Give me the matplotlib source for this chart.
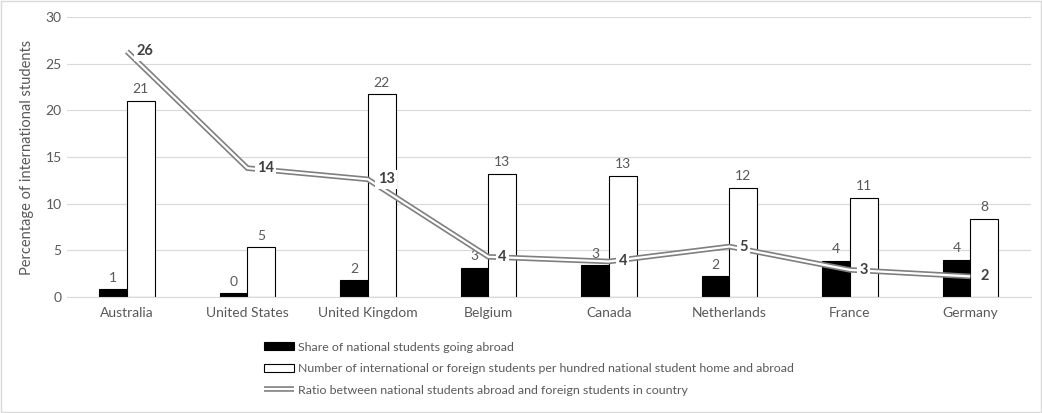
import numpy as np
import matplotlib.pyplot as plt
from matplotlib.patches import Patch
from matplotlib.legend_handler import HandlerTuple

plt.rcParams['font.family'] = ['Lato', 'DejaVu Sans']

countries = ['Australia', 'United States', 'United Kingdom', 'Belgium',
             'Canada', 'Netherlands', 'France', 'Germany']
share_abroad = [0.8, 0.4, 1.8, 3.1, 3.4, 2.2, 3.9, 4.0]
intl_per_hundred = [21.0, 5.3, 21.7, 13.2, 13.0, 11.7, 10.6, 8.4]
ratio = [26.3, 13.8, 12.6, 4.3, 3.8, 5.4, 2.9, 2.2]

grey = '#595959'

fig = plt.figure(figsize=(10.42, 4.13), dpi=100)
ax = fig.add_axes([0.064, 0.281, 0.925, 0.678])

x = np.arange(len(countries))
w = 0.23
b1 = ax.bar(x - w / 2, share_abroad, w, color='black', edgecolor='black', linewidth=0.8, zorder=2)
b2 = ax.bar(x + w / 2, intl_per_hundred, w, color='white', edgecolor='black', linewidth=0.8, zorder=2)
ax.bar_label(b1, fmt='%.0f', padding=4, color=grey, fontsize=10)
ax.bar_label(b2, fmt='%.0f', padding=4, color=grey, fontsize=10)

# double line: grey outline with white core
l_out, = ax.plot(x, ratio, color='#7f7f7f', lw=4, zorder=3, solid_capstyle='butt')
l_in, = ax.plot(x, ratio, color='white', lw=1.6, zorder=4, solid_capstyle='butt')
for xi, yi in zip(x, ratio):
    ax.annotate('%.0f' % yi, (xi, yi), xytext=(7, 0), textcoords='offset points',
                ha='left', va='center', fontsize=10.5, fontweight='bold', color='#404040',
                bbox=dict(boxstyle='square,pad=0.15', fc='white', ec='none'), zorder=5)

ax.set_xlim(-0.5, len(countries) - 0.5)
ax.set_ylim(0, 30)
ax.set_yticks(range(0, 31, 5))
ax.set_xticks(x)
ax.set_xticklabels(countries)
ax.yaxis.grid(True, color='#d9d9d9', lw=0.8, zorder=0)
ax.set_axisbelow(True)
for s in ['top', 'right', 'left']:
    ax.spines[s].set_visible(False)
ax.spines['bottom'].set_color('#d9d9d9')
ax.tick_params(axis='both', length=0, colors=grey, labelsize=10)
ax.tick_params(axis='x', pad=7)
ax.set_ylabel('Percentage of international students', color=grey, fontsize=10.5, labelpad=8)

handles = [Patch(fc='black', ec='black', lw=0.8), Patch(fc='white', ec='black', lw=0.8),
           (l_out, l_in)]
labels = ['Share of national students going abroad',
          'Number of international or foreign students per hundred national student home and abroad',
          'Ratio between national students abroad and foreign students in country']
leg = fig.legend(handles, labels, loc='upper left', bbox_to_anchor=(0.243, 0.2),
                 frameon=False, fontsize=8.9, labelcolor=grey, handlelength=2.4,
                 handleheight=0.6, handletextpad=0.3, labelspacing=0.85,
                 handler_map={tuple: HandlerTuple(ndivide=1, pad=0)})

fig.patches.append(plt.Rectangle((0.001, 0.002), 0.998, 0.996, transform=fig.transFigure,
                                 fill=False, ec='#d9d9d9', lw=1))

fig.savefig('out.png', dpi=100)
